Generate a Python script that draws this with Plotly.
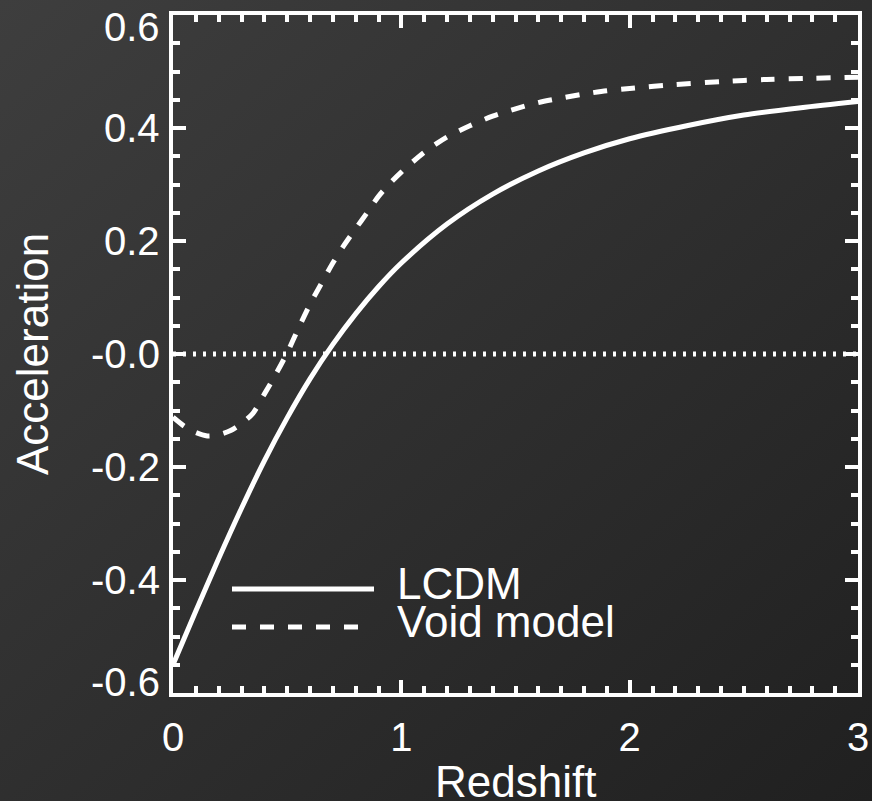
import base64
import plotly.graph_objects as go

# Deceleration-style "acceleration" curves versus redshift
z_lcdm = [0.0, 0.1, 0.2, 0.3, 0.4, 0.5, 0.6, 0.7, 0.8, 0.9, 1.0,
          1.2, 1.4, 1.6, 1.8, 2.0, 2.25, 2.5, 2.75, 3.0]
acc_lcdm = [-0.550, -0.455, -0.362, -0.273, -0.189, -0.113, -0.044, 0.017,
            0.071, 0.119, 0.161, 0.230, 0.283, 0.324, 0.356, 0.381, 0.404,
            0.423, 0.436, 0.447]

z_void = [0.0, 0.05, 0.1, 0.15, 0.2, 0.25, 0.3, 0.35, 0.4, 0.45, 0.5, 0.55,
          0.6, 0.65, 0.7, 0.75, 0.8, 0.85, 0.9, 0.95, 1.0, 1.1, 1.2, 1.3,
          1.4, 1.5, 1.6, 1.7, 1.8, 1.9, 2.0, 2.2, 2.4, 2.6, 2.8, 3.0]
acc_void = [-0.112, -0.128, -0.139, -0.145, -0.143, -0.136, -0.123, -0.105,
            -0.071, -0.036, 0.002, 0.046, 0.088, 0.125, 0.161, 0.193, 0.222,
            0.250, 0.279, 0.302, 0.322, 0.357, 0.384, 0.404, 0.421, 0.434,
            0.445, 0.453, 0.460, 0.466, 0.470, 0.477, 0.482, 0.486, 0.488,
            0.490]

series_names = ["LCDM", "Void model"]
x_tick_vals = [0, 1, 2, 3]
y_tick_vals = [0.6, 0.4, 0.2, 0.0, -0.2, -0.4, -0.6]
y_tick_text = ["0.6", "0.4", "0.2", "-0.0", "-0.2", "-0.4", "-0.6"]

W, H = 872, 801
L, R, T, B = 173, 14, 15, 108
PW, PH = W - L - R, H - T - B
FONT = "Liberation Sans, Arial, Helvetica, sans-serif"
WHITE = "#ffffff"


def px_x(p):
    return (p - L) / PW


def px_y(p):
    return (H - B - p) / PH


# Diagonal dark-grey gradient behind everything
svg = (
    f'<svg xmlns="http://www.w3.org/2000/svg" width="{W}" height="{H}">'
    '<defs><linearGradient id="g" x1="0" y1="0" x2="1" y2="1">'
    '<stop offset="0" stop-color="#3e3e3e"/>'
    '<stop offset="1" stop-color="#202020"/>'
    '</linearGradient></defs>'
    '<rect width="100%" height="100%" fill="url(#g)"/></svg>'
)
bg_src = "data:image/svg+xml;base64," + base64.b64encode(svg.encode()).decode()

fig = go.Figure()
fig.add_trace(go.Scatter(
    x=z_lcdm, y=acc_lcdm, mode="lines", name=series_names[0],
    line=dict(color=WHITE, width=5, shape="spline", smoothing=0.8),
    showlegend=False,
))
fig.add_trace(go.Scatter(
    x=z_void, y=acc_void, mode="lines", name=series_names[1],
    line=dict(color=WHITE, width=5, dash="14px,14px", shape="spline",
              smoothing=0.8),
    showlegend=False,
))

shapes = [
    # dotted zero line
    dict(type="line", xref="x", yref="y", x0=0, x1=3, y0=0, y1=0,
         line=dict(color=WHITE, width=5, dash="3px,7px"), layer="above"),
    # legend samples
    dict(type="line", xref="paper", yref="paper", x0=px_x(232), x1=px_x(374),
         y0=px_y(589), y1=px_y(589), line=dict(color=WHITE, width=5)),
    dict(type="line", xref="paper", yref="paper", x0=px_x(232), x1=px_x(360),
         y0=px_y(627), y1=px_y(627),
         line=dict(color=WHITE, width=5, dash="14px,14px")),
]

annotations = []
for v, t in zip(y_tick_vals, y_tick_text):
    shift = 0
    if v == max(y_tick_vals):
        shift = -12
    elif v == min(y_tick_vals):
        shift = 11
    annotations.append(dict(
        text=t, xref="paper", x=0, xanchor="right", xshift=-11,
        yref="y", y=v, yanchor="middle", yshift=shift, showarrow=False,
        font=dict(family=FONT, size=40, color=WHITE),
    ))
annotations += [
    dict(text="Redshift", xref="paper", x=0.5, xanchor="center",
         yref="paper", y=px_y(781), yanchor="middle", showarrow=False,
         font=dict(family=FONT, size=44, color=WHITE)),
    dict(text="Acceleration", textangle=-90, xref="paper", x=px_x(32),
         xanchor="center", yref="paper", y=0.5, yanchor="middle",
         showarrow=False, font=dict(family=FONT, size=44, color=WHITE)),
    dict(text=series_names[0], xref="paper", x=px_x(395), xanchor="left",
         yref="paper", y=px_y(583), yanchor="middle", showarrow=False,
         font=dict(family=FONT, size=44, color=WHITE)),
    dict(text=series_names[1], xref="paper", x=px_x(395), xanchor="left",
         yref="paper", y=px_y(621), yanchor="middle", showarrow=False,
         font=dict(family=FONT, size=44, color=WHITE)),
]

axis_common = dict(
    showline=True, linecolor=WHITE, linewidth=4, mirror="allticks",
    ticks="inside", ticklen=13, tickwidth=4, tickcolor=WHITE,
    showgrid=False, zeroline=False, fixedrange=True,
)

fig.update_layout(
    width=W, height=H,
    margin=dict(l=L, r=R, t=T, b=B, autoexpand=False),
    paper_bgcolor="#2e2e2e", plot_bgcolor="rgba(0,0,0,0)",
    images=[dict(source=bg_src, xref="paper", yref="paper",
                 x=-L / PW, y=1 + T / PH, sizex=W / PW, sizey=H / PH,
                 xanchor="left", yanchor="top", sizing="stretch",
                 layer="below")],
    xaxis=dict(range=[0, 3], tickvals=x_tick_vals,
               ticktext=[str(v) for v in x_tick_vals],
               tickfont=dict(family=FONT, size=40, color=WHITE),
               ticklabelstandoff=6,
               minor=dict(ticks="inside", ticklen=7, tickwidth=4,
                          tickcolor=WHITE, dtick=0.1, tick0=0,
                          showgrid=False),
               **axis_common),
    yaxis=dict(range=[-0.6, 0.6], tickvals=y_tick_vals, showticklabels=False,
               minor=dict(ticks="inside", ticklen=7, tickwidth=4,
                          tickcolor=WHITE, dtick=0.05, tick0=0,
                          showgrid=False),
               **axis_common),
    shapes=shapes,
    annotations=annotations,
    showlegend=False,
)

fig.write_html("out.html")
